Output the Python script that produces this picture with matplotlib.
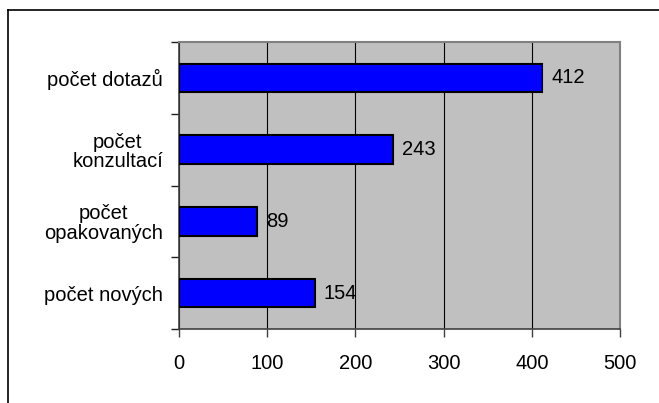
import matplotlib.pyplot as plt
from matplotlib.lines import Line2D

# data, top to bottom as in the chart
categories = ["počet dotazů", "počet\nkonzultací", "počet\nopakovaných", "počet nových"]
values = [412, 243, 89, 154]
x_ticks = [0, 100, 200, 300, 400, 500]

plt.rcParams['font.family'] = ['Liberation Sans', 'DejaVu Sans']

fig = plt.figure(figsize=(6.59, 4.03), dpi=100)
ax = fig.add_axes([179 / 659, 1 - 329 / 403, 441 / 659, 287 / 403])

pos = list(range(len(categories)))[::-1]
ax.barh(pos, values, height=0.4, color='#0000ff', edgecolor='black', linewidth=1.5, zorder=3)
for p, v in zip(pos, values):
    ax.text(v + 10, p, str(v), va='center', ha='left', fontsize=14.5, zorder=4)

ax.set_facecolor('#c0c0c0')
ax.set_xlim(0, 500)
ax.set_ylim(-0.5, len(categories) - 0.5)
ax.set_xticks(x_ticks)
ax.xaxis.grid(True, color='black', linewidth=0.8, zorder=1)
ax.set_axisbelow(True)

# category labels sit between boundary ticks
ax.set_yticks(pos)
ax.set_yticklabels(categories, fontsize=14.5, linespacing=1.05, multialignment='center')
ax.tick_params(axis='y', length=0, pad=11.5)
ax.set_yticks([p - 0.5 for p in range(len(categories) + 1)], minor=True)
ax.tick_params(axis='y', which='minor', length=6, width=1, color='#202020')
ax.tick_params(axis='x', length=6, width=1, color='#404040', labelsize=14.5, pad=12)

for s in ['top', 'right']:
    ax.spines[s].set_color('#808080')
    ax.spines[s].set_linewidth(1.5)
ax.spines['bottom'].set_color('#404040')
ax.spines['bottom'].set_linewidth(1.2)
ax.spines['left'].set_color('#404040')
ax.spines['left'].set_linewidth(1.2)

# outer chart frame (only top and left visible)
fig.add_artist(Line2D([8 / 659, 1], [1 - 10 / 403, 1 - 10 / 403], color='black', linewidth=1.2))
fig.add_artist(Line2D([8 / 659, 8 / 659], [0, 1 - 10 / 403], color='black', linewidth=1.2))

fig.savefig('out.png', dpi=100)
